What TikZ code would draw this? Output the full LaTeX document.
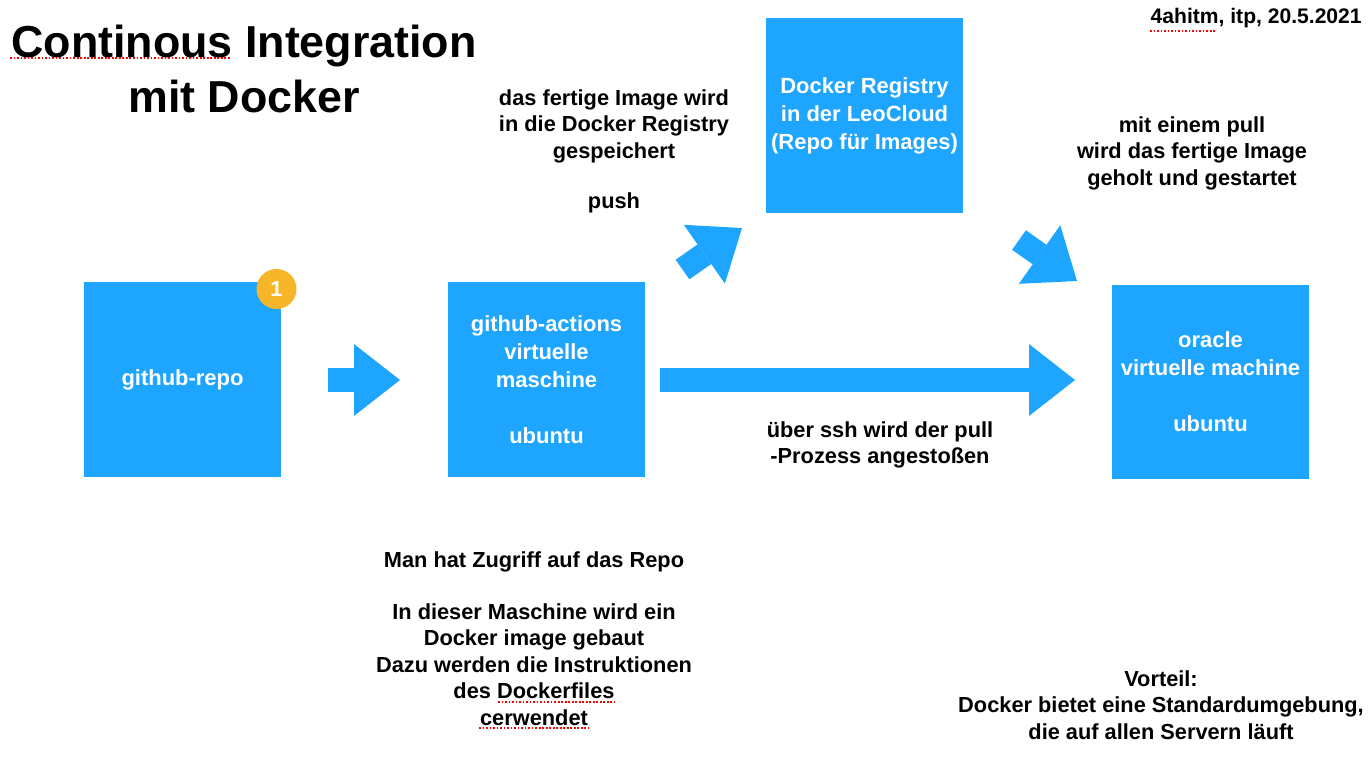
\documentclass[tikz,border=0pt]{standalone}
\usepackage{fontspec}
\setmainfont{Liberation Sans}
\usepackage{tikz}
\usetikzlibrary{arrows.meta}
\definecolor{boxblue}{RGB}{30,165,255}
\definecolor{badgeorange}{RGB}{247,181,41}

\begin{document}
\begin{tikzpicture}[x=0.02cm, y=-0.02cm,
    txt/.style={font=\fontsize{12.4pt}{15.1pt}\selectfont\bfseries, align=center, inner sep=0pt},
    box/.style={txt, font=\fontsize{12.5pt}{15.9pt}\selectfont\bfseries, fill=boxblue, text=white, minimum width=3.94cm, minimum height=3.9cm},
    bigarrow/.style={draw=boxblue, line width=13.6pt, -{Triangle[length=26.1pt, width=40.8pt, line width=0pt]}},
    spellmark/.style={red, line width=0.6pt, dash pattern=on 1pt off 1pt}]
    \useasboundingbox (0,0) rectangle (1372,762);

    % the four machines
    \node [box] (repo) at (182.5,379.5) {github-repo};
    \node [box] (actions) at (546.5,379.5) {github-actions\\virtuelle\\maschine\\[15.9pt]ubuntu};
    \node [box] (registry) at (864.5,115.5) {Docker Registry\\in der LeoCloud\\(Repo für Images)};
    \node [box] (oracle) at (1210.5,382) {oracle\\virtuelle machine\\[15.9pt]ubuntu};
    \node [txt, circle, fill=badgeorange, text=white, minimum size=0.8cm] (badge) at (276.5,289) {1};

    % block arrows
    \coordinate (a1) at (328,380);
    \coordinate (a2) at (400,380);
    \coordinate (b1) at (660,380);
    \coordinate (b2) at (1075,380);
    \coordinate (c1) at (682.5,269.5);
    \coordinate (c2) at (742,228);
    \coordinate (d1) at (1019,240);
    \coordinate (d2) at (1077,281);
    \draw [bigarrow] (a1) -- (a2);
    \draw [bigarrow] (b1) -- (b2);
    \draw [bigarrow] (c1) -- (c2);
    \draw [bigarrow] (d1) -- (d2);

    % texts
    \node [txt, anchor=north, font=\fontsize{25.5pt}{31.2pt}\selectfont\bfseries] (title) at (244,25) {Continous Integration\\mit Docker};
    \node [txt, anchor=north east, font=\fontsize{12pt}{14pt}\selectfont\bfseries] (date) at (1362,8) {4ahitm, itp, 20.5.2021};
    \node [txt, anchor=north] (push) at (614,89) {das fertige Image wird\\in die Docker Registry\\gespeichert\\[13.8pt]push};
    \node [txt, anchor=north] (pull) at (1192,116) {mit einem pull\\wird das fertige Image\\geholt und gestartet};
    \node [txt, anchor=north] (ssh) at (880,421) {über ssh wird der pull\\-Prozess angestoßen};
    \node [txt, anchor=north] (build) at (534,551) {Man hat Zugriff auf das Repo\\[14.5pt]In dieser Maschine wird ein\\Docker image gebaut\\Dazu werden die Instruktionen\\des Dockerfiles\\cerwendet};
    \node [txt, anchor=north] (vorteil) at (1161,670) {Vorteil:\\Docker bietet eine Standardumgebung,\\die auf allen Servern läuft};

    % spell check marks
    \draw [spellmark] (10,58) -- (230,58);
    \draw [spellmark] (1150,31) -- (1215,31);
    \draw [spellmark] (498,702) -- (615,702);
    \draw [spellmark] (479,728) -- (588,728);
\end{tikzpicture}
\end{document}
